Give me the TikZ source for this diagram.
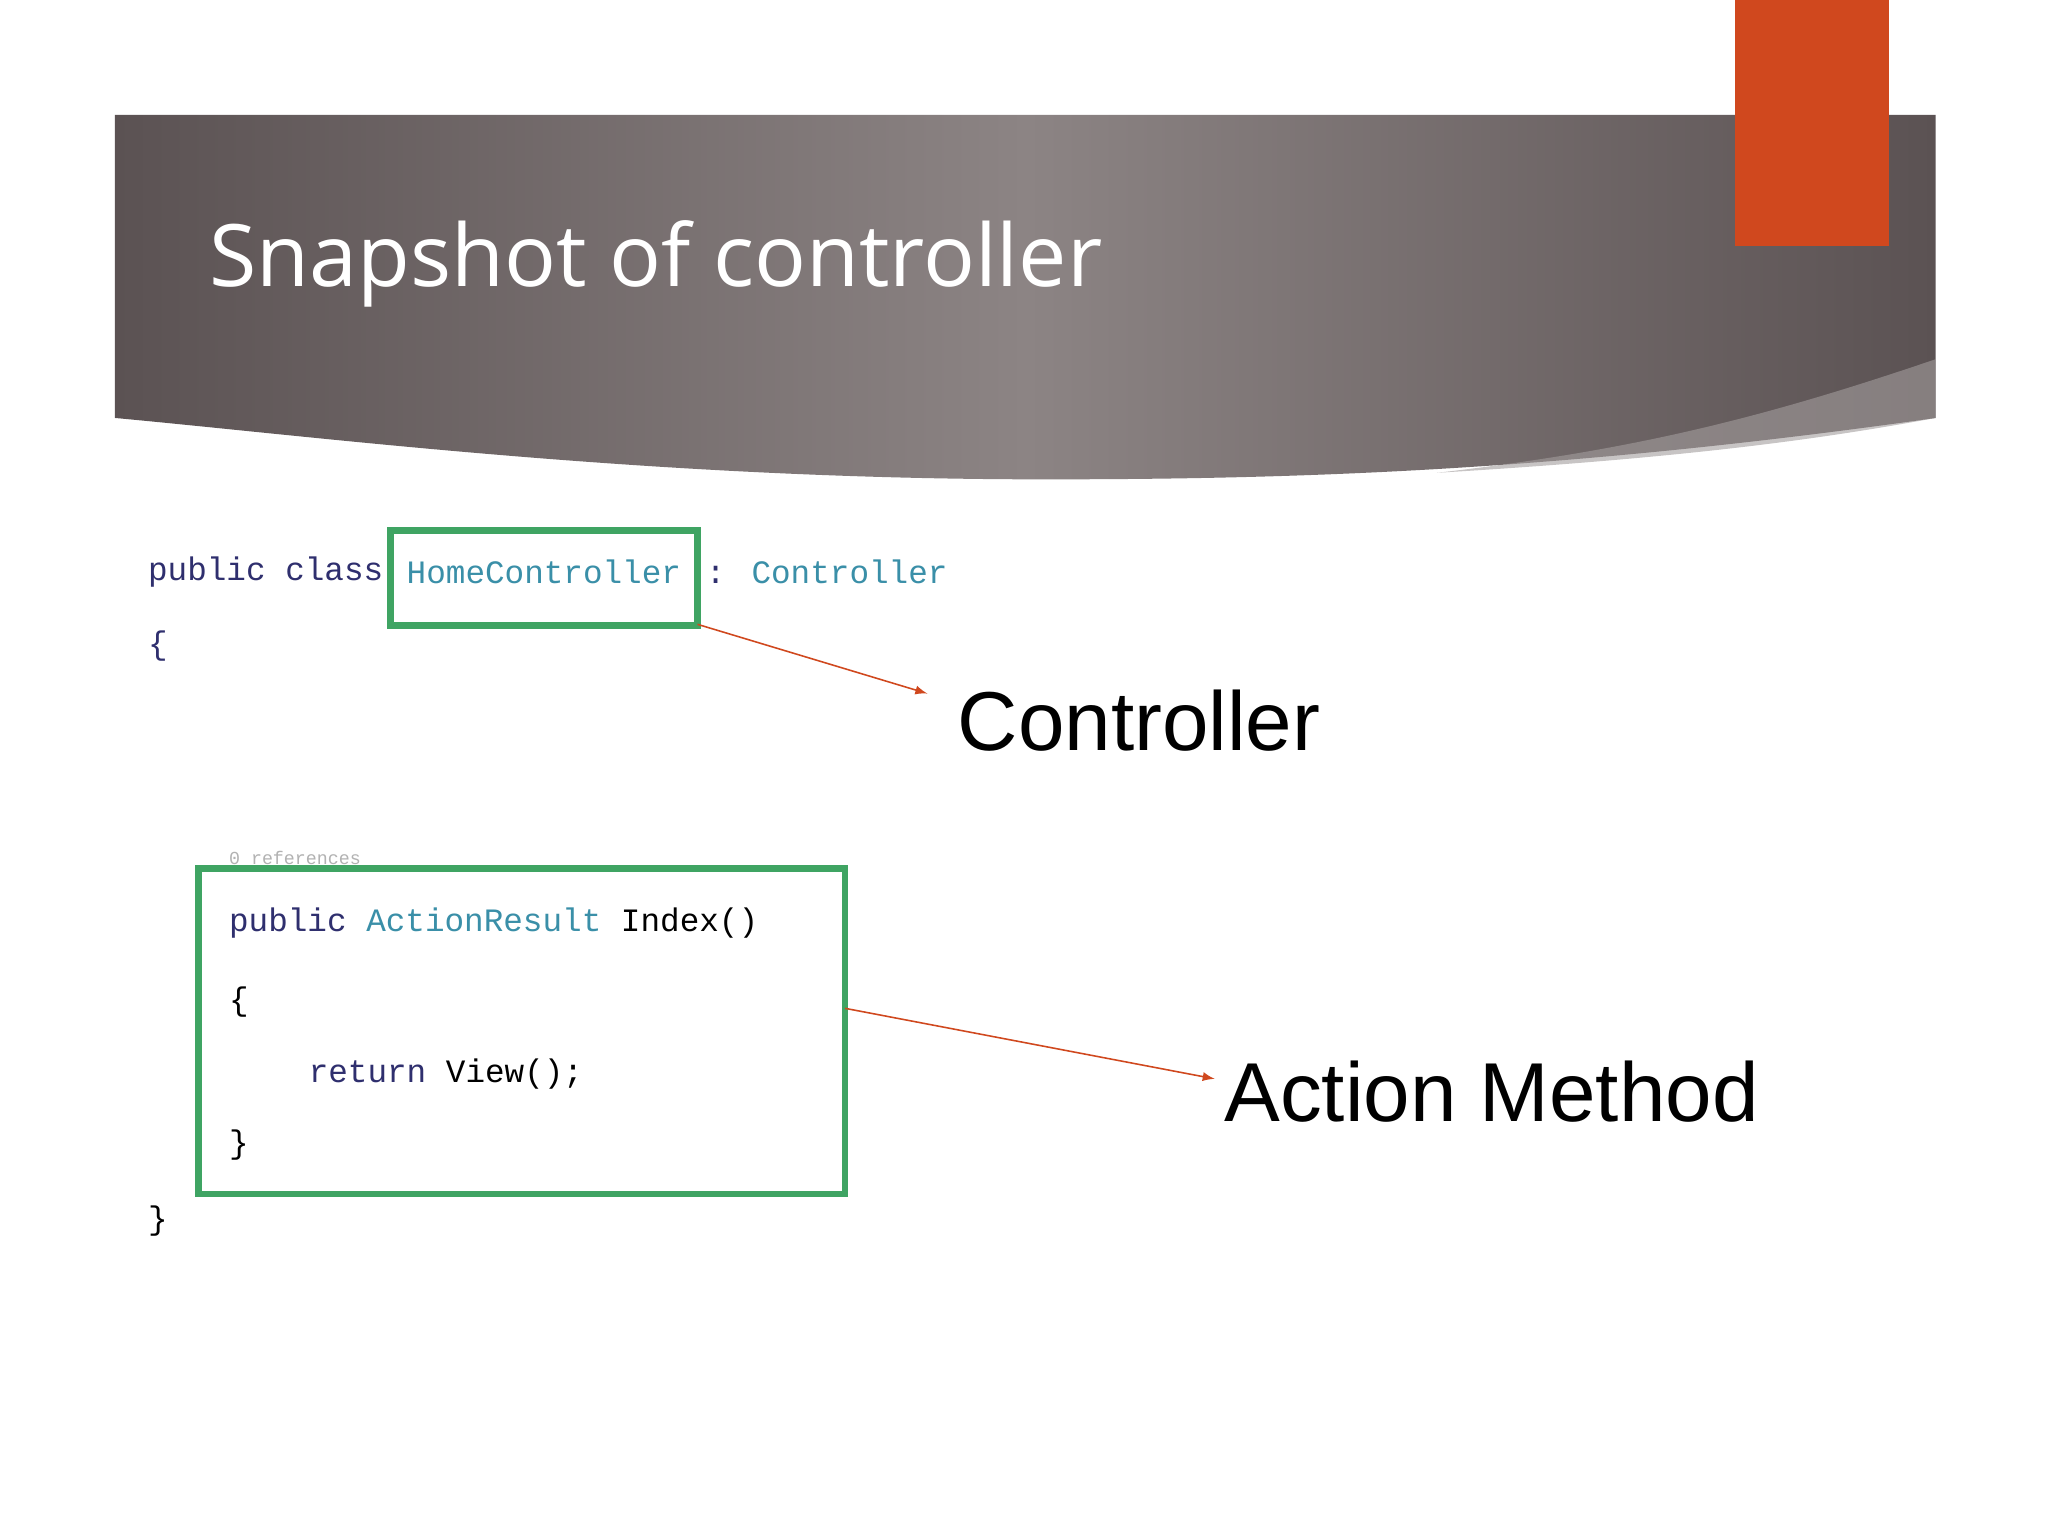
\documentclass[tikz,border=0pt]{standalone}
\usepackage{fontspec}
\setmainfont{Liberation Sans}
\newfontfamily\titlefont{Open Sans}
\newfontfamily\codefont{Liberation Mono}
\definecolor{hdrdark}{HTML}{5B5253}
\definecolor{hdrlight}{HTML}{8C8484}
\definecolor{orangebar}{HTML}{D0481E}
\definecolor{boxgreen}{HTML}{3FA463}
\definecolor{kw}{HTML}{2F2F6E}
\definecolor{typ}{HTML}{3A8FA8}
\definecolor{arr}{HTML}{D0481E}
\tikzset{
 code/.style={anchor=west,inner sep=0pt,font=\codefont\fontsize{12.5pt}{14pt}\selectfont},
 lbl/.style={anchor=west,inner sep=0pt,font=\fontsize{32pt}{38pt}\selectfont},
 gbox/.style={draw=boxgreen,line width=2.5pt},
 conn/.style={draw=arr,line width=0.6pt,-latex}
}
\begin{document}
\begin{tikzpicture}[x=0.5pt,y=-0.5pt]
\useasboundingbox (0,0) rectangle (1568,1176);
\fill[white] (0,0) rectangle (1568,1176);
% header
\shade[left color=hdrdark,right color=hdrdark,middle color=hdrlight]
 (88,88) -- (1482,88) -- (1482,320) .. controls (1200,360) and (1000,367) .. (800,367)
 .. controls (500,367) and (250,335) .. (88,320) -- cycle;
\fill[hdrlight!80!white,opacity=0.6] (1482,275) .. controls (1350,320) and (1250,345) .. (1100,362)
 .. controls (1300,350) and (1400,335) .. (1482,320) -- cycle;
\fill[orangebar] (1328,0) rectangle (1446,188);
\node[anchor=west,inner sep=0pt,text=white,font=\titlefont\fontsize{33pt}{38pt}\selectfont] (title) at (160,202) {Snapshot of controller};
% code
\node[code] (l1a) at (113,438) {\textcolor{kw}{public class}};
\node[code] (l1b) at (311,438) {\textcolor{typ}{HomeController}};
\node[code] (l1c) at (540,438) {\textcolor{kw}{:} \textcolor{typ}{Controller}};
\node[code] (l2) at (113,495) {\textcolor{kw}{\{}};
\node[code,text=gray!60,font=\codefont\fontsize{7pt}{8pt}\selectfont] (refs) at (175,657) {0 references};
\node[code] (m1) at (175,707) {\textcolor{kw}{public} \textcolor{typ}{ActionResult} Index()};
\node[code] (m2) at (175,767) {\{};
\node[code] (m3) at (236,822) {\textcolor{kw}{return} View();};
\node[code] (m4) at (175,877) {\}};
\node[code] (m5) at (113,935) {\}};
\node[gbox,minimum width=117.5pt,minimum height=36.5pt,inner sep=0pt] (box1) at (416.5,442.5) {};
\node[gbox,minimum width=247.5pt,minimum height=124.5pt,inner sep=0pt] (box2) at (399.5,789.5) {};
% labels
\node[lbl] (c) at (733,552) {Controller};
\node[lbl] (a) at (937,836) {Action Method};
\coordinate (s1) at (534,478);
\coordinate (s2) at (647,772);
\coordinate (e1) at (710,531);
\coordinate (e2) at (930,826);
\draw[conn] (s1) -- (e1);
\draw[conn] (s2) -- (e2);
\end{tikzpicture}
\end{document}
